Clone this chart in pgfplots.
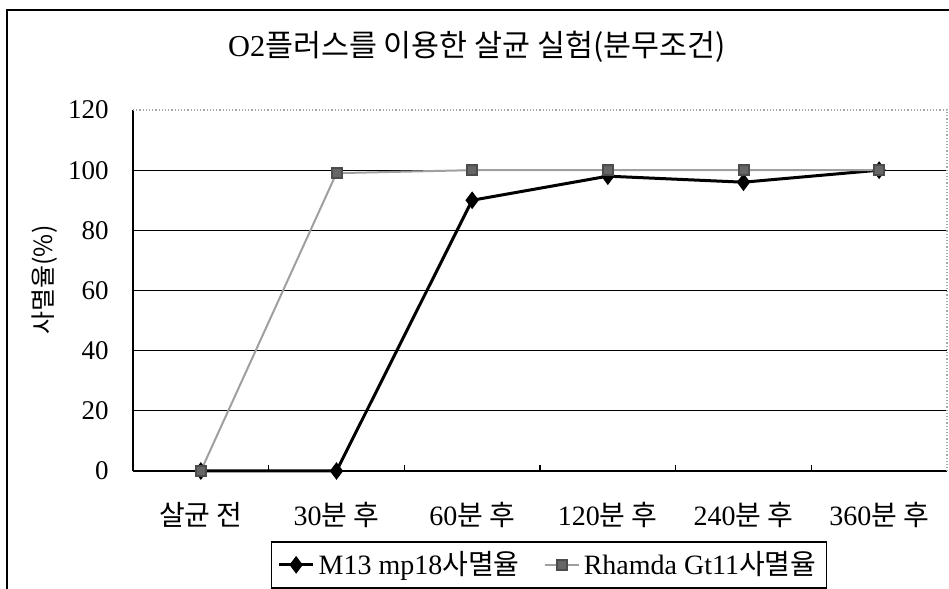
\documentclass[border=0pt]{standalone}
\usepackage{fontspec}
\setmainfont{Liberation Serif}
\newfontfamily\kr{Noto Sans CJK KR}
\usepackage{pgfplots}
\pgfplotsset{compat=1.18}
\begin{document}
\begin{tikzpicture}[x=1pt,y=1pt]
\draw[line width=0.8pt] (3.5,-5) -- (3.5,289.5) -- (480,289.5);
\begin{axis}[
  at={(66.5pt,59pt)}, anchor=south west,
  scale only axis, width=407pt, height=180.5pt,
  xmin=-0.5, xmax=5.5, ymin=0, ymax=120,
  axis x line*=bottom, axis y line*=left,
  axis line style={black, line width=0.6pt},
  xtick={0,...,5},
  xticklabels={{\kr 살균 전},{30\kr 분 후},{60\kr 분 후},{120\kr 분 후},{240\kr 분 후},{360\kr 분 후}},
  minor xtick={0.5,1.5,2.5,3.5,4.5},
  ytick={0,20,...,120},
  extra y ticks={20,40,60,80,100}, extra y tick labels={},
  extra y tick style={grid=major},
  major grid style={black, line width=0.5pt},
  major tick length=0pt, minor tick length=3pt, tick align=inside,
  minor tick style={black, line width=0.6pt},
  /pgf/number format/assume math mode=true,
  yticklabel style={font=\fontsize{13.5}{14}\selectfont, anchor=east, inner sep=0pt, xshift=-12pt},
  xticklabel style={font=\fontsize{14}{15}\selectfont, anchor=center, inner sep=0pt, yshift=-22pt},
  legend style={at={(0.511,-0.26)}, anchor=center, legend columns=2, draw=black, line width=0.8pt,
    font=\fontsize{14}{15}\selectfont, inner sep=3pt,
    /tikz/every even column/.append style={column sep=10pt}},
  clip=false,
]
\addplot[black, line width=1.5pt, mark=diamond*, mark size=3.2pt, mark options={solid, fill=black}]
  coordinates {(0,0) (1,0) (2,90) (3,98) (4,96) (5,100)};
\addlegendentry{M13 mp18{\kr 사멸율}}
\addplot[gray!75, line width=1pt, mark=square*, mark size=2.5pt, mark options={solid, draw=black!70, fill=black!60}]
  coordinates {(0,0) (1,99) (2,100) (3,100) (4,100) (5,100)};
\addlegendentry{Rhamda Gt11{\kr 사멸율}}
\draw[gray!70, densely dotted, line width=0.6pt] (rel axis cs:0,1) -- (rel axis cs:1,1) -- (rel axis cs:1,0);
\end{axis}
\node[font=\kr\fontsize{15.2}{17}\selectfont] at (238.5,271) {{\rmfamily O2}플러스를 이용한 살균 실험(분무조건)};
\node[rotate=90, font=\kr\fontsize{12.5}{14}\selectfont] at (22.5,154.5) {사멸율(\%)};
\pgfresetboundingbox
\useasboundingbox (0,0) rectangle (474.5,294.5);
\end{tikzpicture}
\end{document}
